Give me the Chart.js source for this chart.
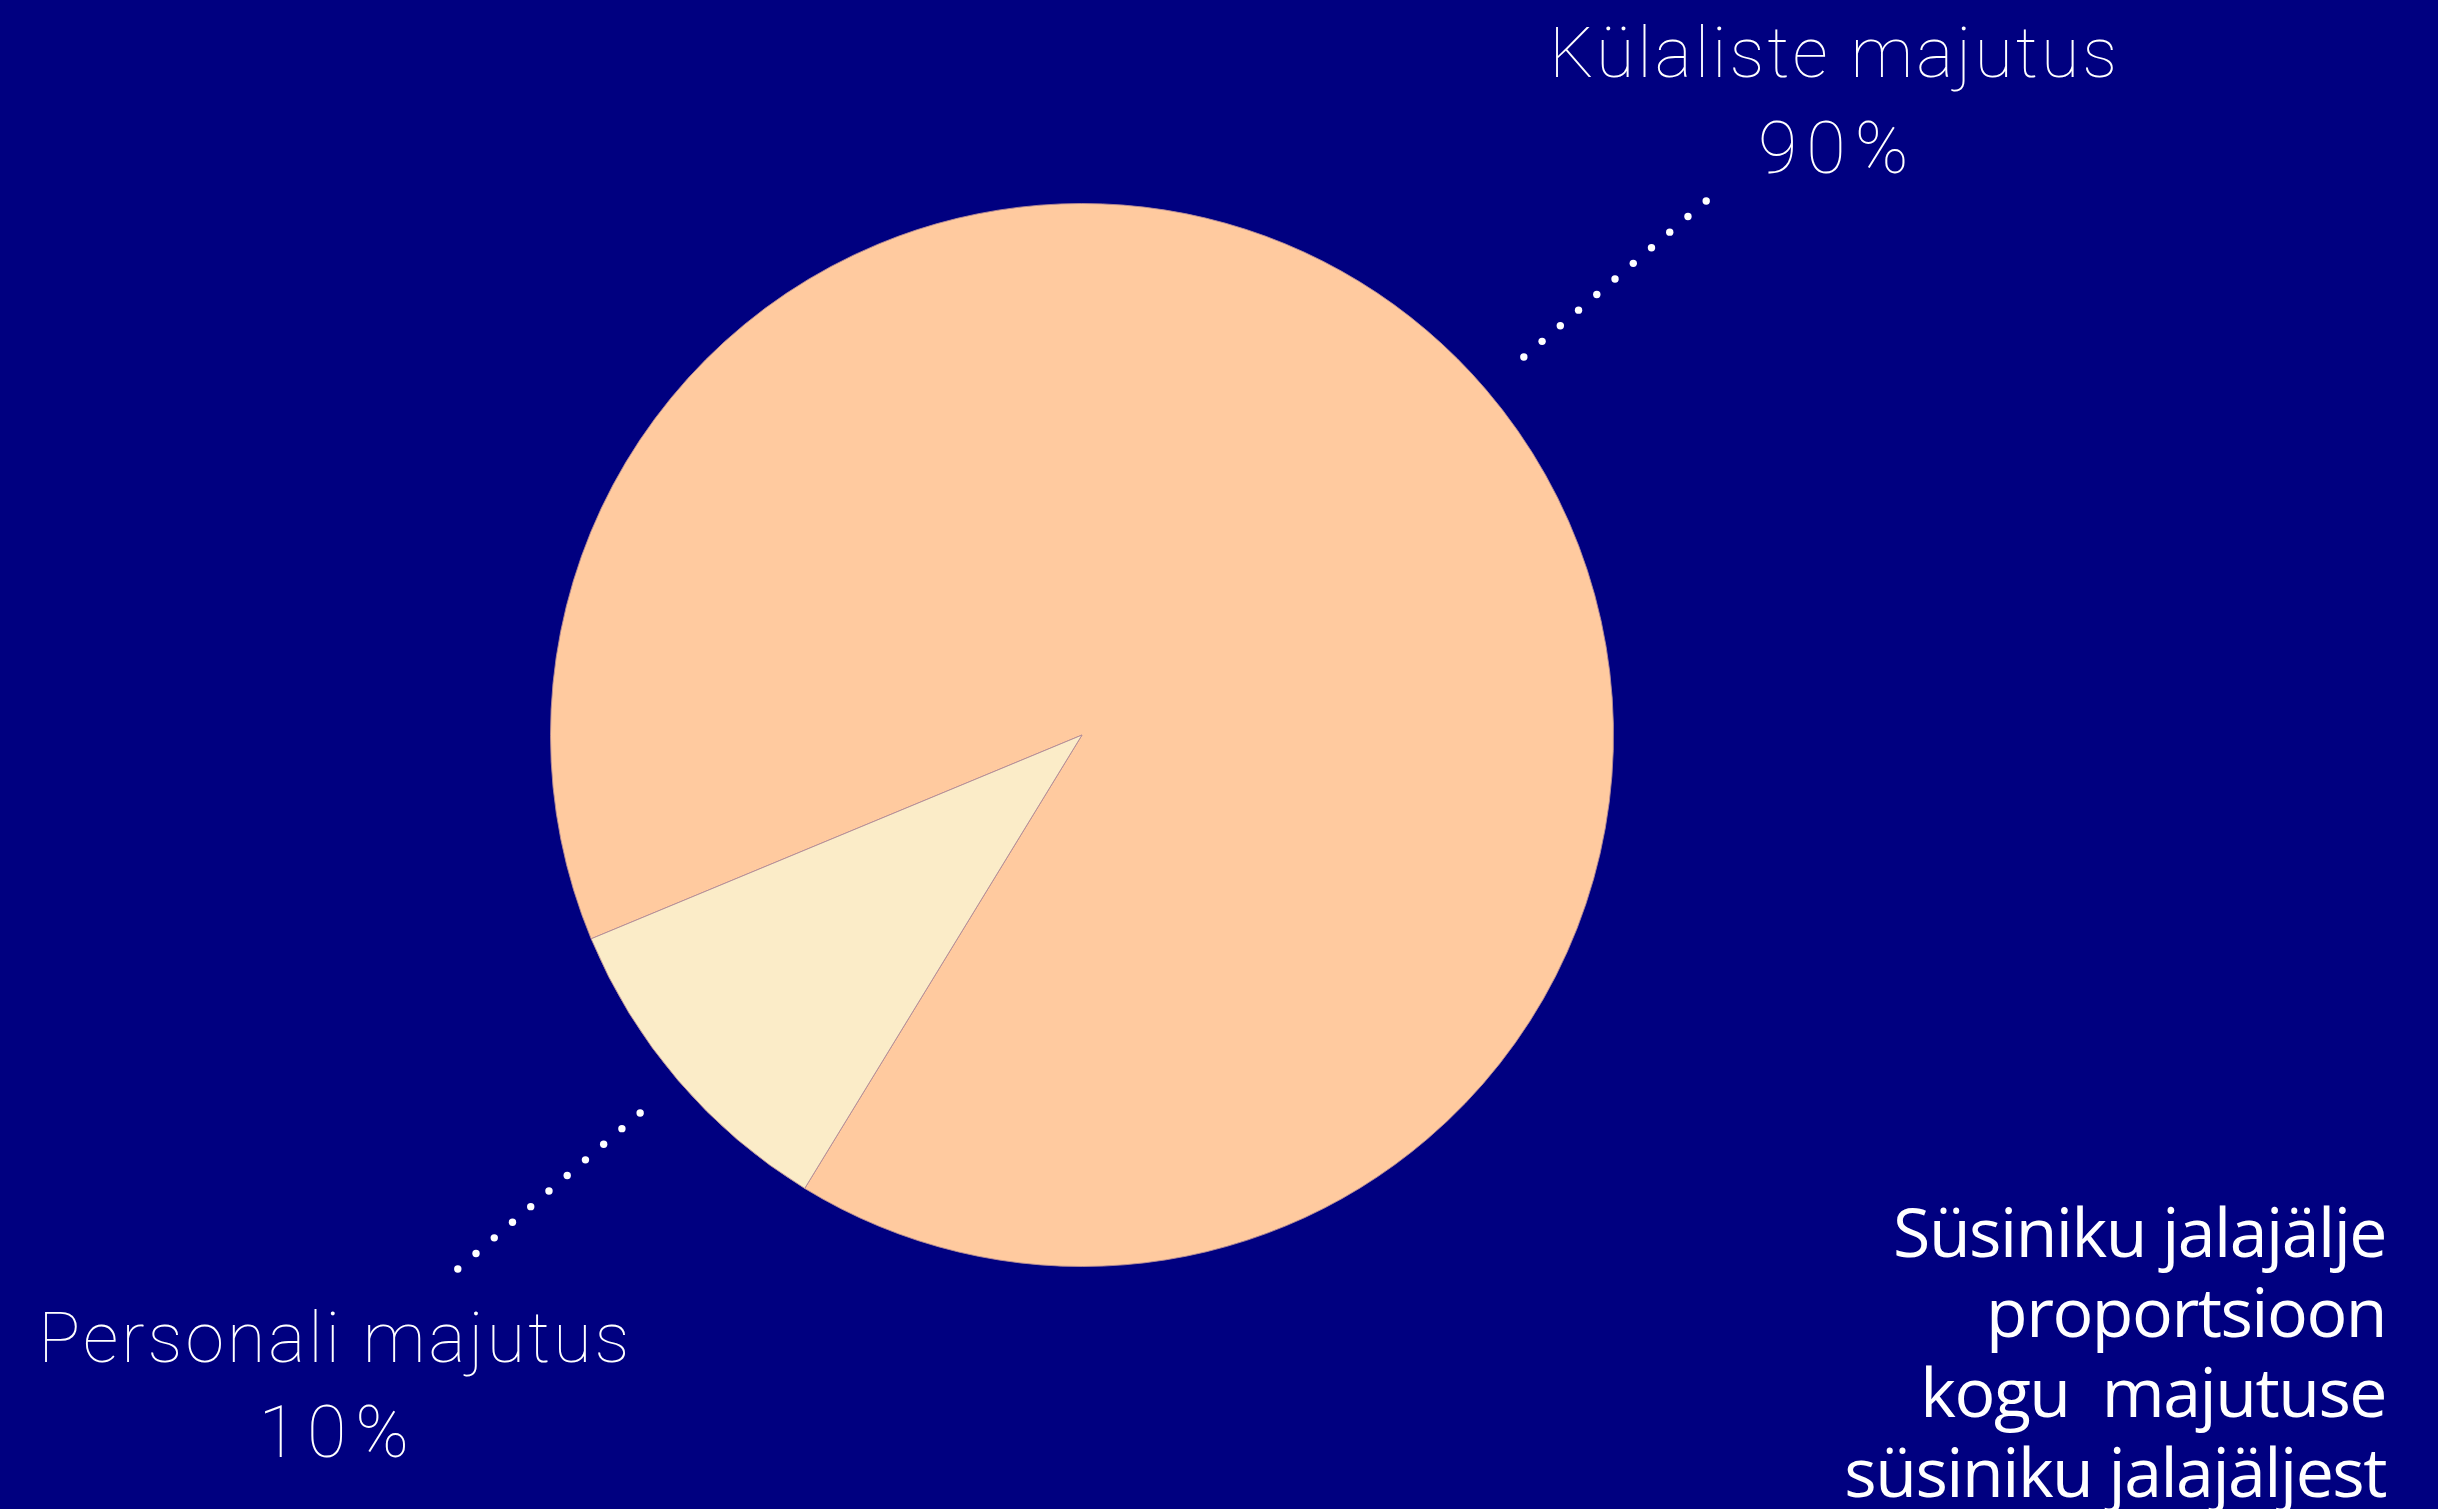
<!DOCTYPE html>
<html>
<head>
<meta charset="utf-8">
<script src="https://cdn.jsdelivr.net/npm/chart.js@4"></script>
<style>
  html, body { margin: 0; padding: 0; background: #000080; }
  #wrap { width: 2438px; height: 1509px; position: relative; }
</style>
</head>
<body>
<div id="wrap"><canvas id="c" width="2438" height="1509"></canvas></div>
<script>
// ---- data ----
const categories = ['Külaliste majutus', 'Personali majutus'];
const values = [90, 10];
const valueLabels = ['90%', '10%'];
const sliceColors = ['#FFCA9F', '#FBECC8'];
const titleLines = ['Süsiniku jalajälje', 'proportsioon', 'kogu  majutuse', 'süsiniku jalajäljest'];

const BG = '#000080';

const labelPlugin = {
  id: 'labelPlugin',
  beforeDraw(chart) {
    const ctx = chart.ctx;
    ctx.save();
    ctx.fillStyle = BG;
    ctx.fillRect(0, 0, chart.width, chart.height);
    ctx.restore();
  },
  afterDraw(chart) {
    const ctx = chart.ctx;
    const meta = chart.getDatasetMeta(0);
    ctx.save();
    ctx.fillStyle = '#ffffff';
    const sides = ['up', 'down'];
    meta.data.forEach((arc, idx) => {
      const cx = arc.x, cy = arc.y, r = arc.outerRadius;
      const mid = (arc.startAngle + arc.endAngle) / 2;
      const d0 = r + 50, step = 24, n = 11;
      let ex = 0, ey = 0;
      for (let i = 0; i < n; i++) {
        ex = cx + Math.cos(mid) * (d0 + step * i);
        ey = cy + Math.sin(mid) * (d0 + step * i);
        ctx.beginPath();
        ctx.arc(ex, ey, 3.7, 0, Math.PI * 2);
        ctx.fill();
      }
      ctx.textAlign = 'center';
      ctx.textBaseline = 'alphabetic';
      const tx = sides[idx] === 'up' ? ex + 127 : ex - 124;
      const y1 = sides[idx] === 'up' ? ey - 124 : ey + 93;
      const y2 = sides[idx] === 'up' ? ey - 28 : ey + 188;
      ctx.font = '100 70px Roboto';
      ctx.letterSpacing = '3px';
      ctx.fillText(categories[idx], tx + 1.5, y1);
      ctx.font = '100 72px Roboto';
      ctx.letterSpacing = '9px';
      ctx.fillText(valueLabels[idx], tx + 4.5, y2);
    });
    // bottom-right text
    ctx.font = '400 68px "Open Sans"';
    ctx.letterSpacing = '-1.5px';
    ctx.textAlign = 'right';
    titleLines.forEach((t, i) => {
      ctx.fillText(t, chart.width - 52, 1257 + i * 80);
    });
    ctx.restore();
  }
};

new Chart(document.getElementById('c'), {
  type: 'pie',
  data: {
    labels: categories,
    datasets: [{
      data: values,
      backgroundColor: sliceColors,
      borderColor: 'rgba(180,140,150,0.9)',
      borderWidth: 1
    }]
  },
  options: {
    responsive: false,
    animation: false,
    rotation: 247.45,
    layout: { padding: { top: 203, bottom: 242, left: 550, right: 824 } },
    plugins: {
      legend: { display: false },
      tooltip: { enabled: false },
      title: { display: false }
    }
  },
  plugins: [labelPlugin]
});
</script>
</body>
</html>
